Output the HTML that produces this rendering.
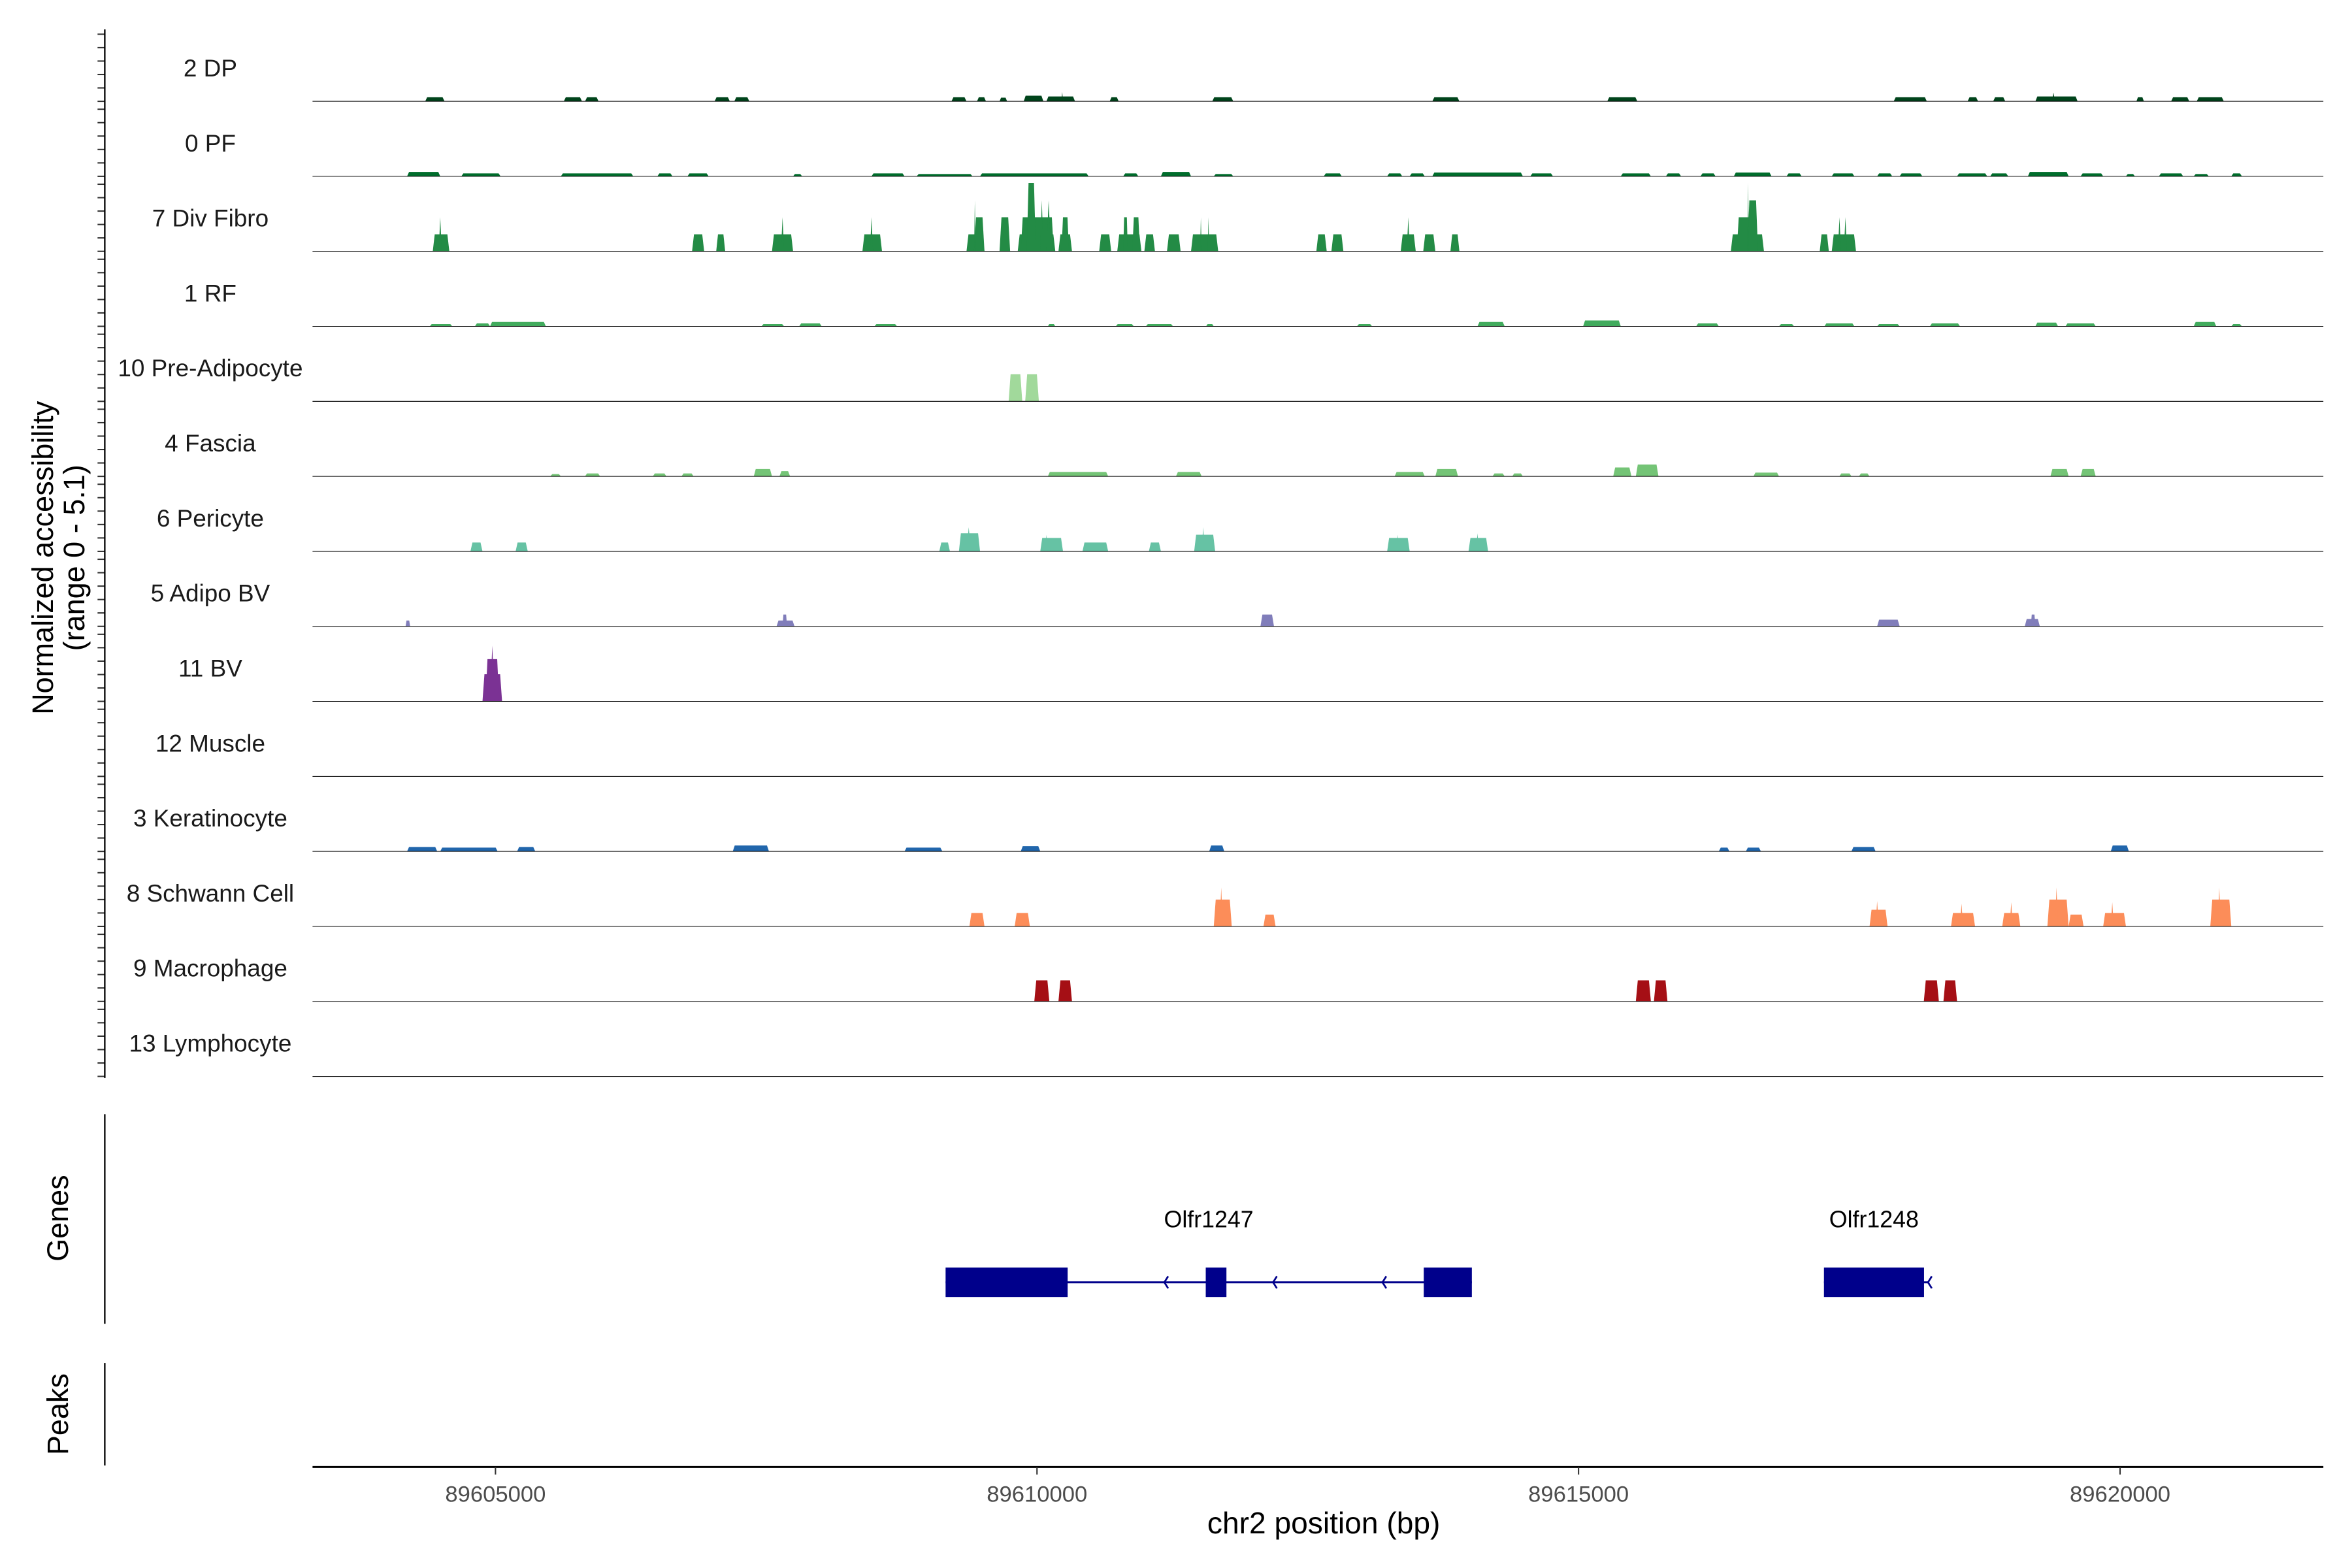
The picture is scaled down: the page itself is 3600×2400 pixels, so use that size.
<!DOCTYPE html>
<html>
<head>
<meta charset="utf-8">
<style>
html,body{margin:0;padding:0;background:#fff;}
svg{display:block;}
text{font-family:"Liberation Sans",Arial,sans-serif;}
</style>
</head>
<body>
<svg id="chart" xmlns="http://www.w3.org/2000/svg" width="3600" height="2400" viewBox="0 0 1560 1040">
<rect x="0" y="0" width="1560" height="1040" fill="#fff"/>
<g id="tracks"></g>
<g id="yaxis"></g>
<g id="genes"></g>
<g id="xaxis"></g>
<text transform="translate(35,370) rotate(-90)" text-anchor="middle" font-size="19.5" fill="#000">Normalized accessibility</text>
<text transform="translate(56,370) rotate(-90)" text-anchor="middle" font-size="19.5" fill="#000">(range 0 - 5.1)</text>
<text transform="translate(45,808) rotate(-90)" text-anchor="middle" font-size="19.5" fill="#000">Genes</text>
<text transform="translate(45,938) rotate(-90)" text-anchor="middle" font-size="19.5" fill="#000">Peaks</text>
<text x="878" y="1017" text-anchor="middle" font-size="20" fill="#000">chr2 position (bp)</text>
</svg>
<script>
// ---- data ----
const trackNames = ["2 DP","0 PF","7 Div Fibro","1 RF","10 Pre-Adipocyte","4 Fascia","6 Pericyte","5 Adipo BV","11 BV","12 Muscle","3 Keratinocyte","8 Schwann Cell","9 Macrophage","13 Lymphocyte"];
const trackColors = ["#00441b","#006d2c","#238b45","#41ab5d","#a1d99b","#74c476","#66c2a4","#807dba","#7b3294","#54278f","#2166ac","#fc8d59","#a50f15","#e7298a"];
const xTicks = [89605000, 89610000, 89615000, 89620000];
const yTicks = [0,1,2,3,4,5];
const xDomain = [89603311, 89621863];
const yMax = 5.1;

const dpPeaks = [[89604351,89604530,.3],[89605631,89605799,.3],[89605827,89605952,.3],[89607023,89607164,.3],[89607205,89607344,.3],[89609210,89609349,.3],[89609446,89609529,.3],[89609654,89609724,.27],[89609877,89610059,.42],[89610087,89610351,.36],[89610226,89610240,.7],[89610671,89610754,.3],[89611618,89611812,.3],[89613650,89613900,.3],[89615265,89615543,.3],[89617910,89618216,.3],[89618592,89618689,.3],[89618828,89618940,.3],[89619218,89619608,.36],[89619372,89619399,.65],[89620151,89620220,.3],[89620471,89620639,.3],[89620708,89620958,.3]];
const pfPeaks = [[89604184,89604490,.33],[89604685,89605047,.22],[89605604,89606272,.22],[89606495,89606634,.22],[89606773,89606968,.22],[89607748,89607831,.17],[89608472,89608777,.22],[89608889,89609404,.17],[89609474,89610476,.22],[89610796,89610935,.22],[89611144,89611422,.33],[89611632,89611812,.17],[89612648,89612814,.22],[89613233,89613372,.22],[89613441,89613580,.22],[89613650,89614486,.28],[89614555,89614764,.22],[89615390,89615668,.22],[89615807,89615947,.22],[89616126,89616265,.22],[89616434,89616782,.28],[89616921,89617060,.22],[89617338,89617547,.22],[89617757,89617896,.22],[89617965,89618174,.22],[89618495,89618773,.22],[89618801,89618967,.22],[89619149,89619525,.33],[89619636,89619844,.22],[89620054,89620137,.17],[89620359,89620582,.22],[89620680,89620819,.17],[89621027,89621125,.22]];
const divFibroPeaks = [[89604421,89604574,1.27],[89604476,89604504,2.54],[89606815,89606927,1.27],[89607038,89607121,1.27],[89607553,89607748,1.27],[89607636,89607665,2.54],[89608388,89608569,1.27],[89608458,89608486,2.54],[89609349,89609515,1.27],[89609419,89609515,2.54],[89609419,89609433,3.8],[89609654,89609752,2.54],[89609822,89610169,1.27],[89609850,89610155,2.54],[89609905,89609989,5.1],[89610030,89610059,3.8],[89610087,89610128,3.8],[89610198,89610323,1.27],[89610226,89610295,2.54],[89610574,89610685,1.27],[89610741,89610964,1.27],[89610796,89610838,2.54],[89610880,89610950,2.54],[89610991,89611089,1.27],[89611200,89611326,1.27],[89611422,89611673,1.27],[89611506,89611520,2.54],[89611576,89611590,2.54],[89612579,89612675,1.27],[89612718,89612829,1.27],[89613358,89613497,1.27],[89613414,89613442,2.54],[89613566,89613678,1.27],[89613817,89613900,1.27],[89616406,89616712,1.27],[89616461,89616657,2.54],[89616559,89616657,3.8],[89616559,89616573,5.1],[89617227,89617311,1.27],[89617338,89617562,1.27],[89617395,89617423,2.54],[89617450,89617478,2.54]];
const rfPeaks = [[89604393,89604601,.17],[89604810,89604950,.22],[89604950,89605465,.33],[89607456,89607665,.17],[89607804,89608012,.22],[89608499,89608708,.17],[89610100,89610169,.17],[89610727,89610894,.17],[89611005,89611256,.17],[89611561,89611632,.17],[89612954,89613094,.17],[89614067,89614318,.33],[89615042,89615390,.44],[89616086,89616295,.22],[89616851,89616990,.17],[89617270,89617547,.22],[89617757,89617965,.17],[89618244,89618522,.22],[89619218,89619427,.28],[89619496,89619775,.22],[89620680,89620888,.33],[89621027,89621125,.17]];
const preAdipoPeaks = [[89609738,89609864,2.02],[89609891,89610017,2.02]];
const fasciaPeaks = [[89605506,89605604,.17],[89605827,89605966,.22],[89606453,89606578,.22],[89606718,89606829,.22],[89607385,89607553,.55],[89607622,89607720,.39],[89610100,89610657,.33],[89611283,89611520,.33],[89613302,89613580,.33],[89613678,89613887,.55],[89614206,89614318,.22],[89614388,89614486,.22],[89615320,89615488,.66],[89615529,89615738,.88],[89616615,89616851,.28],[89617408,89617520,.22],[89617589,89617686,.22],[89619357,89619525,.55],[89619636,89619775,.55]];
const pericytePeaks = [[89604769,89604880,.66],[89605186,89605298,.66],[89609098,89609196,.66],[89609279,89609474,1.35],[89609349,89609390,1.8],[89610030,89610240,1.0],[89610073,89610100,1.24],[89610420,89610657,.66],[89611033,89611144,.66],[89611451,89611645,1.24],[89611520,89611548,1.8],[89613233,89613441,1.0],[89613316,89613344,1.24],[89613984,89614165,1.0],[89614053,89614081,1.35]];
const adipoBvPeaks = [[89604170,89604212,.44],[89607595,89607761,.44],[89607650,89607692,.88],[89612063,89612188,.88],[89617757,89617965,.5],[89619120,89619259,.55],[89619176,89619218,.88]];
const bvPeaks = [[89604880,89605061,2.02],[89604908,89605034,3.15],[89604950,89604991,4.16]];
const musclePeaks = [];
const keratinocytePeaks = [[89604184,89604462,.33],[89604490,89605020,.28],[89605200,89605367,.33],[89607191,89607525,.44],[89608777,89609126,.28],[89609850,89610030,.39],[89611590,89611729,.44],[89616295,89616393,.28],[89616545,89616684,.28],[89617520,89617743,.33],[89619914,89620081,.44]];
const schwannPeaks = [[89609376,89609515,1.0],[89609794,89609934,1.0],[89611632,89611798,2.0],[89611687,89611715,2.9],[89612091,89612203,.88],[89617687,89617853,1.24],[89617743,89617771,1.9],[89618439,89618661,1.0],[89618522,89618550,1.7],[89618912,89619079,1.0],[89618981,89619009,1.8],[89619329,89619525,2.0],[89619399,89619427,2.9],[89619525,89619663,.88],[89619844,89620054,1.0],[89619914,89619942,1.8],[89620833,89621027,2.0],[89620902,89620930,2.9]];
const macrophagePeaks = [[89609975,89610114,1.57],[89610198,89610323,1.57],[89615529,89615668,1.57],[89615696,89615821,1.57],[89618188,89618327,1.57],[89618369,89618495,1.57]];
const lymphocytePeaks = [];
const allPeaks = [dpPeaks,pfPeaks,divFibroPeaks,rfPeaks,preAdipoPeaks,fasciaPeaks,pericytePeaks,adipoBvPeaks,bvPeaks,musclePeaks,keratinocytePeaks,schwannPeaks,macrophagePeaks,lymphocytePeaks];

const geneNames = ["Olfr1247","Olfr1248"];
const geneExons = [[[89609156,89610283],[89611558,89611749],[89613571,89614015]],[[89617266,89618190]]];
const geneSpans = [[89609156,89614015],[89617266,89618227]];
const geneArrows = [[89611176,89612180,89613190],[89618227]];

// ---- layout ----
const NS = "http://www.w3.org/2000/svg";
const X0 = 207.3, X1 = 1540;
const TOP = 67.2, STEP = 49.75, PXU = 8.9;
function xs(bp){ return X0 + (bp - xDomain[0]) / (xDomain[1] - xDomain[0]) * (X1 - X0); }
function ys(v, base){ return base - v * PXU; }
function mk(tag, attrs, parent){
  const el = document.createElementNS(NS, tag);
  for (const k in attrs) el.setAttribute(k, attrs[k]);
  parent.appendChild(el);
  return el;
}

const gTracks = document.getElementById('tracks');
const gY = document.getElementById('yaxis');
trackNames.forEach((name, i) => {
  const base = TOP + STEP * i;
  const g = mk('g', {}, gTracks);
  
  
  allPeaks[i].forEach(p => {
    const x1 = xs(p[0]), x2 = xs(p[1]);
    const w = x2 - x1;
    const sl = w < 3 ? w / 2 : Math.min(w * 0.2, 1.3);
    const yt = ys(Math.min(p[2], yMax), base);
    const poly = mk('polygon', {points: `${x1},${base} ${x1+sl},${yt} ${x2-sl},${yt} ${x2},${base}`, fill: trackColors[i]}, g);
    
    
  });
  const bl = mk('line', {x1: X0, x2: X1 + 1, y1: base, y2: base, stroke: '#000', 'stroke-width': 0.45}, g);
  
  
  const lab = mk('text', {x: 139.5, y: base - 16.5, 'text-anchor': 'middle', 'font-size': 16, fill: '#1a1a1a'}, g);
  lab.textContent = name;
  
  
  yTicks.forEach(t => {
    const tk = mk('line', {x1: 64.7, x2: 69.5, y1: ys(t, base), y2: ys(t, base), stroke: '#333', 'stroke-width': 0.9}, gY);
    
    
  });
});
const yl = mk('line', {x1: 69.5, x2: 69.5, y1: 19.5, y2: TOP + STEP * 13 + 1, stroke: '#000', 'stroke-width': 1}, gY);



// genes
const gG = document.getElementById('genes');
const gl = mk('line', {x1: 69.5, x2: 69.5, y1: 739, y2: 878, stroke: '#000', 'stroke-width': 1}, gG);


const pl = mk('line', {x1: 69.5, x2: 69.5, y1: 904, y2: 972, stroke: '#000', 'stroke-width': 1}, gG);


const GY = 850.5, GH = 19.5, GC = '#00008b';
geneNames.forEach((name, gi) => {
  const g = mk('g', {}, gG);
  
  
  const sp = geneSpans[gi];
  const il = mk('line', {x1: xs(sp[0]), x2: xs(sp[1]), y1: GY, y2: GY, stroke: GC, 'stroke-width': 1.3}, g);
  
  
  geneExons[gi].forEach(e => {
    const r = mk('rect', {x: xs(e[0]), y: GY - GH / 2, width: xs(e[1]) - xs(e[0]), height: GH, fill: GC}, g);
    
    
  });
  geneArrows[gi].forEach(a => {
    const ax = xs(a);
    const ar = mk('polyline', {points: `${ax+2.5},${GY-4} ${ax},${GY} ${ax+2.5},${GY+4}`, fill: 'none', stroke: GC, 'stroke-width': 1.2}, g);
    
    
  });
  const ex = geneExons[gi];
  const lt = mk('text', {x: (xs(ex[0][0]) + xs(ex[ex.length-1][1])) / 2, y: 814, 'text-anchor': 'middle', 'font-size': 15.5, fill: '#000'}, g);
  lt.textContent = name;
  
  
});

// x axis
const gX = document.getElementById('xaxis');
const xl = mk('line', {x1: X0, x2: X1 + 1, y1: 973, y2: 973, stroke: '#000', 'stroke-width': 1.3}, gX);


xTicks.forEach(t => {
  const tk = mk('line', {x1: xs(t), x2: xs(t), y1: 973, y2: 978, stroke: '#333', 'stroke-width': 0.9}, gX);
  
  
  const tl = mk('text', {x: xs(t), y: 996, 'text-anchor': 'middle', 'font-size': 15, fill: '#4d4d4d'}, gX);
  tl.textContent = String(t);
  
  
});
</script>
</body>
</html>
